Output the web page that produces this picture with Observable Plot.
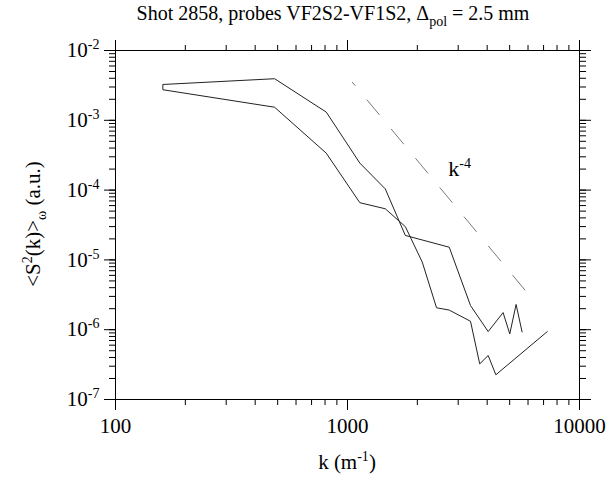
<!DOCTYPE html>
<html>
<head>
<meta charset="utf-8">
<script src="https://cdn.jsdelivr.net/npm/d3@7"></script>
<script src="https://cdn.jsdelivr.net/npm/@observablehq/plot@0.6"></script>
<style>
  html, body { margin: 0; padding: 0; background: #fff; }
  #chart svg { display: block; }
</style>
</head>
<body>
<div id="chart"></div>
<script>
// Wavenumber spectrum <S^2(k)>_omega, two branches sharing the first k bin
const kUpper = [160, 485, 810, 1130, 1455, 1775, 2745, 3390, 4040, 4685, 5005, 5330, 5655];
const sUpper = [3.26e-3, 3.94e-3, 1.31e-3, 2.44e-4, 1.04e-4, 2.24e-5, 1.52e-5, 2.22e-6, 9.4e-7, 1.76e-6, 8.7e-7, 2.3e-6, 9.3e-7];

const kLower = [160, 485, 810, 1130, 1455, 1775, 2100, 2420, 2745, 3390, 3715, 4040, 4360, 7265];
const sLower = [2.74e-3, 1.54e-3, 3.38e-4, 6.6e-5, 5.4e-5, 3.0e-5, 9.3e-6, 2.06e-6, 1.91e-6, 1.32e-6, 3.24e-7, 4.27e-7, 2.26e-7, 9.4e-7];

// k^-4 reference slope
const kRef = [1050, 5900];
const sRef = [3.5e-3, 3.5e-6];
const refLabel = {k: 2720, s: 2.0e-4, text: "k^-4"};

// Axis ticks
const xMajor = [100, 1000, 10000];
const yMajor = [1e-7, 1e-6, 1e-5, 1e-4, 1e-3, 1e-2];
const yTickText = ["10^-7", "10^-6", "10^-5", "10^-4", "10^-3", "10^-2"];

// One polyline: upper branch back to the first bin, then out along the lower branch
const spectrum = [
  ...kUpper.map((k, i) => ({k, s: sUpper[i]})).reverse(),
  ...kLower.map((k, i) => ({k, s: sLower[i]}))
];
const reference = kRef.map((k, i) => ({k, s: sRef[i]}));

const font = "'Liberation Serif', 'Times New Roman', serif";

const chart = Plot.plot({
  width: 608,
  height: 477,
  marginLeft: 115,
  marginRight: 29,
  marginTop: 50,
  marginBottom: 78,
  style: {fontFamily: font, fontSize: "21px", background: "#fff", color: "#000"},
  x: {type: "log", domain: [100, 10000], label: null},
  y: {type: "log", domain: [1e-7, 1e-2], label: null},
  marks: [
    // minor ticks on all four sides
    Plot.axisX({anchor: "bottom", ticks: 30, tickSize: 6, tickFormat: () => "", strokeWidth: 1}),
    Plot.axisX({anchor: "top", ticks: 30, tickSize: 6, tickFormat: () => "", strokeWidth: 1}),
    Plot.axisY({anchor: "left", ticks: 40, tickSize: 6, tickFormat: () => "", strokeWidth: 1}),
    Plot.axisY({anchor: "right", ticks: 40, tickSize: 6, tickFormat: () => "", strokeWidth: 1}),
    // major ticks and labels
    Plot.axisX({anchor: "bottom", ticks: xMajor, tickSize: 11, tickPadding: 8, tickFormat: d => String(d), fontSize: 21, strokeWidth: 1}),
    Plot.axisX({anchor: "top", ticks: xMajor, tickSize: 11, tickFormat: () => "", strokeWidth: 1}),
    Plot.axisY({anchor: "left", ticks: yMajor, tickSize: 11, tickPadding: 5,
      tickFormat: d => yTickText[yMajor.indexOf(d)], fontSize: 21, strokeWidth: 1}),
    Plot.axisY({anchor: "right", ticks: yMajor, tickSize: 11, tickFormat: () => "", strokeWidth: 1}),
    Plot.frame({stroke: "#000", strokeWidth: 1}),
    Plot.line(reference, {x: "k", y: "s", stroke: "#7a7a7a", strokeWidth: 1,
      strokeDasharray: "19,19", strokeDashoffset: 15}),
    Plot.line(spectrum, {x: "k", y: "s", stroke: "#222", strokeWidth: 1, curve: "linear"}),
    Plot.text([refLabel], {x: "k", y: "s", text: "text", fontSize: 22, textAnchor: "start", fill: "#000"})
  ]
});

document.getElementById("chart").appendChild(chart);

const svg = d3.select(chart);

// Turn "base^exp" strings into text with a raised exponent
svg.selectAll("text").each(function () {
  const t = d3.select(this);
  const m = /^(.*?)\^(-?\d+)$/.exec(t.text());
  if (m) {
    t.text(m[1]);
    t.append("tspan").attr("dy", -8).attr("font-size", 14).text(m[2]);
  }
});

// Title
const title = svg.append("text")
  .attr("x", 333).attr("y", 20)
  .attr("text-anchor", "middle")
  .attr("font-family", font).attr("font-size", 20).attr("fill", "#000");
title.append("tspan").text("Shot 2858, probes VF2S2-VF1S2, \u0394");
title.append("tspan").attr("dy", 6).attr("font-size", 14).text("pol");
title.append("tspan").attr("dy", -6).text(" = 2.5 mm");

// x axis label
const xl = svg.append("text")
  .attr("x", 347).attr("y", 469)
  .attr("text-anchor", "middle")
  .attr("font-family", font).attr("font-size", 21).attr("fill", "#000");
xl.append("tspan").text("k (m");
xl.append("tspan").attr("dy", -8).attr("font-size", 14).text("-1");
xl.append("tspan").attr("dy", 8).text(")");

// y axis label
const yl = svg.append("text")
  .attr("transform", "translate(40,224) rotate(-90)")
  .attr("text-anchor", "middle")
  .attr("font-family", font).attr("font-size", 21).attr("fill", "#000");
yl.append("tspan").text("<S");
yl.append("tspan").attr("dy", -8).attr("font-size", 14).text("2");
yl.append("tspan").attr("dy", 8).text("(k)>");
yl.append("tspan").attr("dy", 6).attr("font-size", 14).text("\u03c9");
yl.append("tspan").attr("dy", -6).text(" (a.u.)");
</script>
</body>
</html>
